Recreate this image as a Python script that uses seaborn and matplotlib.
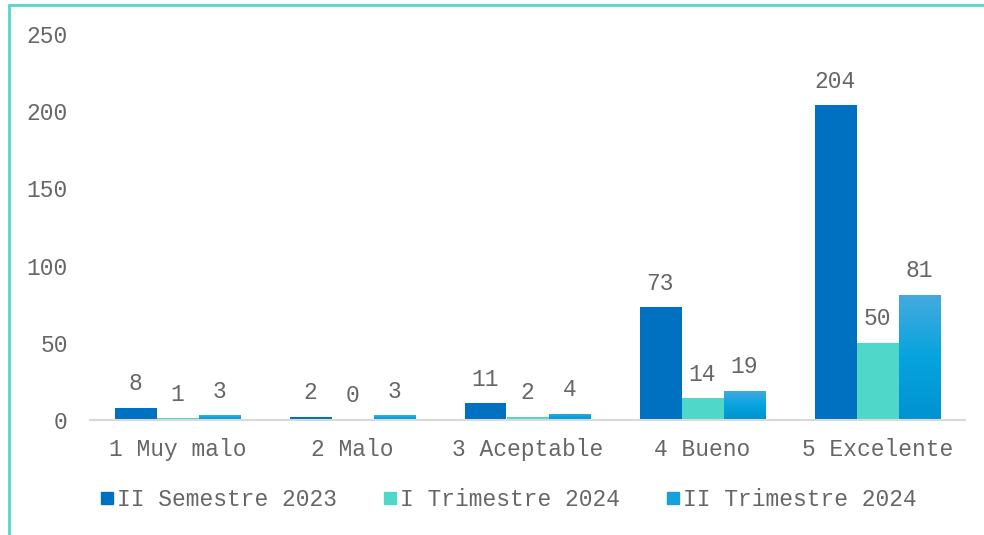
import matplotlib
matplotlib.use("Agg")
import matplotlib.pyplot as plt
import matplotlib.lines as mlines
import numpy as np
import seaborn as sns
import pandas as pd
from matplotlib.colors import LinearSegmentedColormap

# Survey ratings and counts per period
categorias = ["1 Muy malo", "2 Malo", "3 Aceptable", "4 Bueno", "5 Excelente"]
periodos = ["II Semestre 2023", "I Trimestre 2024", "II Trimestre 2024"]
sem2_2023 = [8, 2, 11, 73, 204]
trim1_2024 = [1, 0, 2, 14, 50]
trim2_2024 = [3, 3, 4, 19, 81]
y_ticks = [0, 50, 100, 150, 200, 250]

colores = ["#0070C0", "#4FD8C9", "#16A0DC"]
texto = "#666666"
fs = 16.5

df = pd.DataFrame({
    "categoria": categorias * 3,
    "periodo": [periodos[0]] * 5 + [periodos[1]] * 5 + [periodos[2]] * 5,
    "valor": sem2_2023 + trim1_2024 + trim2_2024,
})

sns.set_theme(style="white")
plt.rcParams["font.family"] = ["Liberation Mono", "DejaVu Sans Mono"]

fig = plt.figure(figsize=(9.84, 5.35), dpi=100)
ax = fig.add_axes([90 / 984, 1 - 420 / 535, 875 / 984, (420 - 34) / 535])

sns.barplot(data=df, x="categoria", y="valor", hue="periodo",
            hue_order=periodos, order=categorias, palette=colores,
            width=0.72, gap=0, ax=ax, legend=False, saturation=1,
            linewidth=0)

# Vertical gradient fill on the last series
grad = LinearSegmentedColormap.from_list("g", ["#0093CF", "#06A4DE", "#45AADF"])
for bar in ax.containers[2]:
    x0, w, h = bar.get_x(), bar.get_width(), bar.get_height()
    if h <= 0:
        continue
    img = ax.imshow(np.linspace(0, 1, 64).reshape(-1, 1), cmap=grad,
                    origin="lower", aspect="auto",
                    extent=(x0, x0 + w, 0, h), zorder=bar.get_zorder())
    img.set_clip_path(bar)
ax.set_aspect("auto")

for cont in ax.containers:
    for bar in cont:
        h = bar.get_height()
        ax.annotate(f"{int(h)}", (bar.get_x() + bar.get_width() / 2, h),
                    xytext=(0, 9), textcoords="offset points",
                    ha="center", va="bottom", fontsize=fs, color=texto)

ax.set_ylim(0, 250)
ax.set_yticks(y_ticks)
ax.set_yticklabels([str(t) for t in y_ticks])
ax.set_xlim(-0.5, 4.5)
ax.set_xlabel("")
ax.set_ylabel("")
ax.tick_params(axis="both", length=0, labelsize=fs, labelcolor=texto)
ax.tick_params(axis="y", pad=16)
ax.tick_params(axis="x", pad=13)
for s in ["top", "right", "left"]:
    ax.spines[s].set_visible(False)
ax.spines["bottom"].set_color("#D9D9D9")
ax.spines["bottom"].set_linewidth(1.5)
ax.grid(False)

handles = [mlines.Line2D([], [], marker="s", linestyle="none", markersize=8,
                         markerfacecolor=c, markeredgecolor=c) for c in colores]
fig.legend(handles, periodos, loc="center", bbox_to_anchor=(507 / 984, 1 - 500 / 535),
           ncol=3, frameon=False, fontsize=fs, labelcolor=texto,
           handletextpad=0.0, columnspacing=1.85, handlelength=0.9)

# Chart frame edges
borde = "#4FD8C9"
fig.add_artist(mlines.Line2D([8.5 / 984, 1], [1 - 4.5 / 535, 1 - 4.5 / 535],
                             transform=fig.transFigure, color=borde, linewidth=2))
fig.add_artist(mlines.Line2D([8.5 / 984, 8.5 / 984], [0, 1 - 4.5 / 535],
                             transform=fig.transFigure, color=borde, linewidth=2))

fig.savefig("out.png", dpi=100, facecolor="white")
